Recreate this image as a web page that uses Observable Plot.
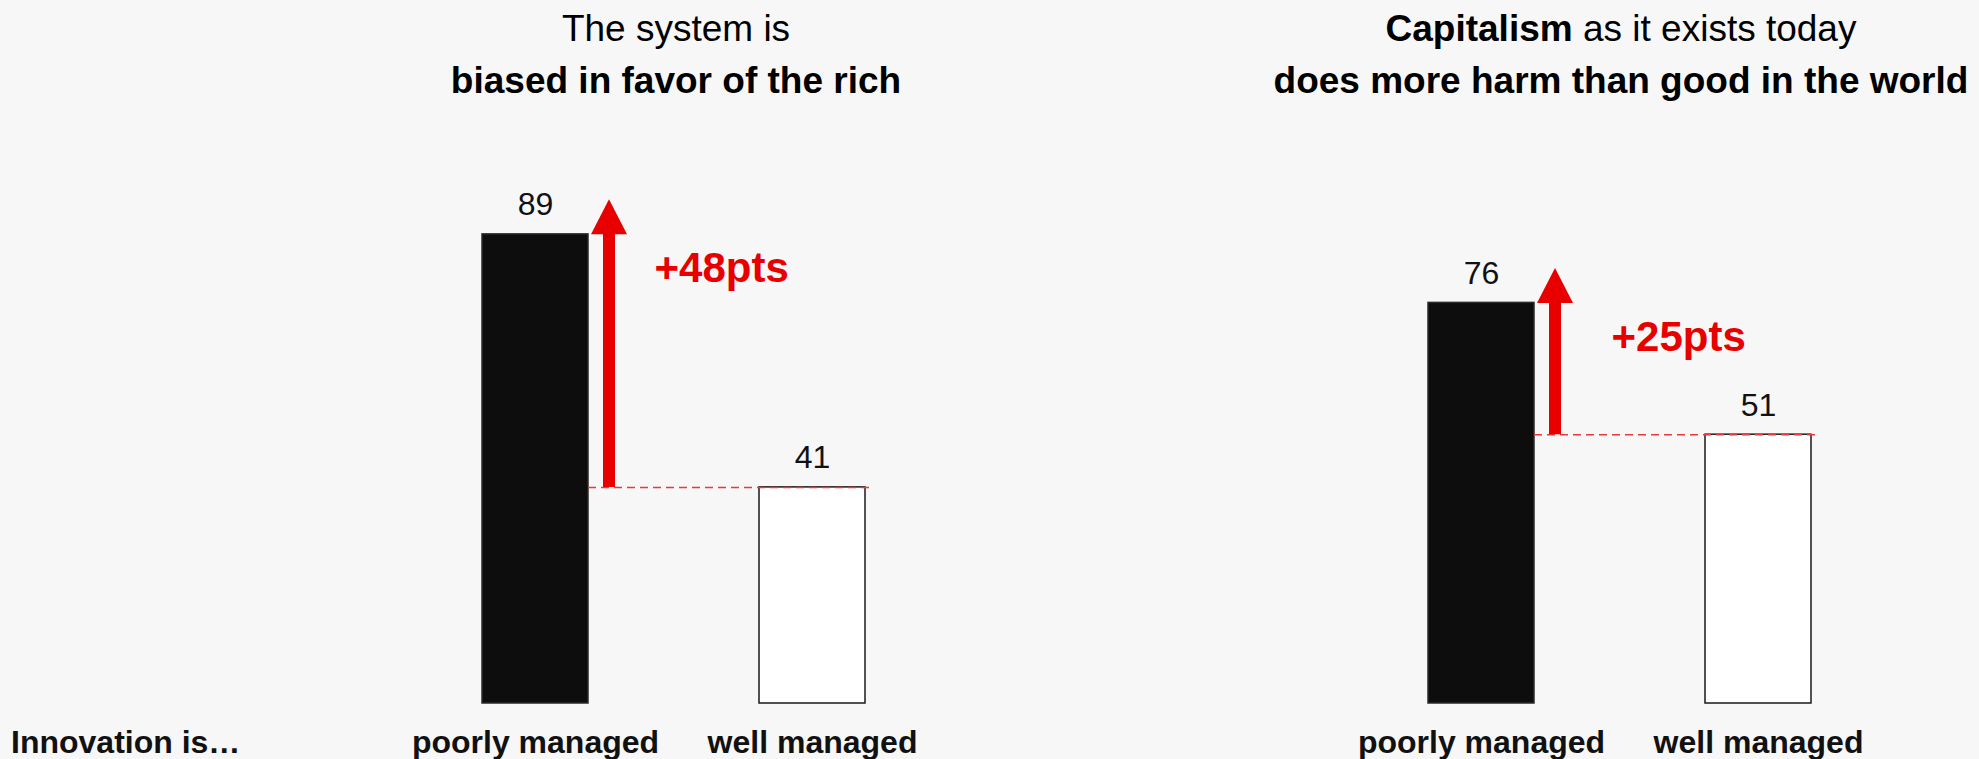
<!DOCTYPE html>
<html>
<head>
<meta charset="utf-8">
<script src="https://cdn.jsdelivr.net/npm/d3@7"></script>
<script src="https://cdn.jsdelivr.net/npm/@observablehq/plot@0.6"></script>
<style>
  html, body { margin: 0; padding: 0; background: #f7f7f7; }
  #root { position: relative; width: 1979px; height: 759px; overflow: hidden;
          font-family: "Liberation Sans", Arial, Helvetica, sans-serif; color: #000; }
  .title { position: absolute; top: 2.6px; font-size: 37px; line-height: 52.5px;
           text-align: center; white-space: nowrap; transform: translateX(-50%); }
  .title b { font-weight: 700; }
  .panel { position: absolute; top: 110px; }
  #lead { position: absolute; left: 11px; top: 725.8px; font-size: 32px; line-height: 32px;
          font-weight: 700; color: #111; white-space: nowrap; }
</style>
</head>
<body>
<div id="root">
  <div class="title" id="t1" style="left:676px"></div>
  <div class="title" id="t2" style="left:1621px"></div>
  <div class="panel" id="p1" style="left:0px;width:990px"></div>
  <div class="panel" id="p2" style="left:990px;width:989px"></div>
  <div id="lead"></div>
</div>
<script>
// ---------- data ----------
const categories = ["poorly managed", "well managed"];
const biasedValues = [89, 41];
const capitalismValues = [76, 51];
const gapLabels = ["+48pts", "+25pts"];
const leadLabel = "Innovation is…";
const title1Lines = ["The system is", "biased in favor of the rich"];
const title2Bold = "Capitalism";
const title2Rest = " as it exists today";
const title2Line2 = "does more harm than good in the world";

// ---------- titles ----------
document.getElementById("t1").innerHTML = `${title1Lines[0]}<br><b>${title1Lines[1]}</b>`;
document.getElementById("t2").innerHTML = `<b>${title2Bold}</b>${title2Rest}<br><b>${title2Line2}</b>`;
document.getElementById("lead").textContent = leadLabel;

// ---------- panels ----------
const RED = "#e80000";
const step = 277, bw = 106, pi = 1 - bw / step, po = 0.3;
const H = 649, MB = 56;
const arrowHead = {
  draw(context) {
    context.moveTo(-18, 0);
    context.lineTo(18, 0);
    context.lineTo(0, -35);
    context.closePath();
  }
};

function panel(values, gapLabel, {pageLeft, width, firstCenter, labelDx}) {
  const data = categories.map((c, i) => ({cat: c, value: values[i]}));
  const hi = values[0], lo = values[1];
  const ml = firstCenter - pageLeft - po * step - bw / 2;
  const rangeLen = step * (2 - pi + 2 * po);
  const mr = width - ml - rangeLen;
  return Plot.plot({
    width, height: H,
    marginTop: 0, marginBottom: MB, marginLeft: ml, marginRight: mr,
    style: {background: "transparent", fontFamily: "'Liberation Sans', Arial, Helvetica, sans-serif", overflow: "visible"},
    x: {type: "band", domain: categories, paddingInner: pi, paddingOuter: po, round: false, axis: null},
    y: {domain: [0, 112.5], axis: null},
    marks: [
      Plot.barY(data, {
        x: "cat", y: "value",
        fill: d => d.cat === categories[0] ? "#0d0d0d" : "#ffffff",
        stroke: d => d.cat === categories[0] ? "#2a2a2a" : "#1a1a1a",
        strokeWidth: 1.5
      }),
      Plot.text(data, {
        x: "cat", y: "value", text: d => String(d.value),
        lineAnchor: "bottom", dy: -19, fontSize: 32, fill: "#111"
      }),
      Plot.ruleY([lo], {
        x1: () => categories[0], x2: () => categories[1], y: d => d,
        insetLeft: bw, insetRight: -5,
        stroke: "#e83a3a", strokeWidth: 1.5, strokeDasharray: "8,5"
      }),
      Plot.ruleX([{cat: categories[0], lo, hi}], {
        x: "cat", y1: "lo", y2: "hi", dx: 73.5,
        stroke: RED, strokeWidth: 12
      }),
      Plot.dot([{cat: categories[0], hi}], {
        x: "cat", y: "hi", dx: 73.5, symbol: arrowHead, r: 10,
        fill: RED, stroke: "none"
      }),
      Plot.text([{cat: categories[0], hi, label: gapLabel}], {
        x: "cat", y: "hi", text: "label", dx: labelDx, dy: 48,
        lineAnchor: "bottom", textAnchor: "start",
        fontSize: 42, fontWeight: "bold", fill: RED
      }),
      Plot.text(data, {
        x: "cat", y: () => 0, text: "cat", dy: 49.5,
        lineAnchor: "bottom", fontSize: 32, fontWeight: "bold", fill: "#111"
      })
    ]
  });
}

document.getElementById("p1").appendChild(
  panel(biasedValues, gapLabels[0], {pageLeft: 0, width: 990, firstCenter: 535, labelDx: 119})
);
document.getElementById("p2").appendChild(
  panel(capitalismValues, gapLabels[1], {pageLeft: 990, width: 989, firstCenter: 1481, labelDx: 130})
);
</script>
</body>
</html>
